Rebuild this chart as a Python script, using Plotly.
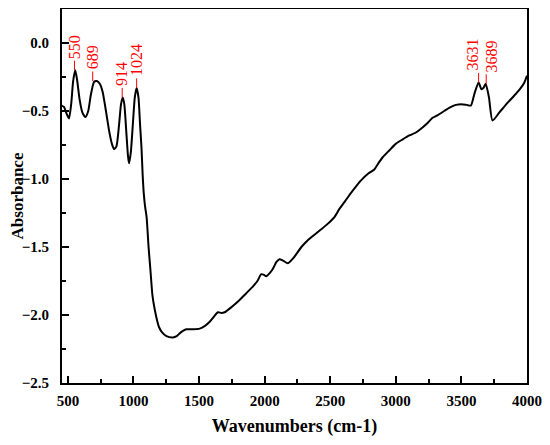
import plotly.graph_objects as go

wavenumber = [452, 470, 490, 508, 525, 540, 556, 570, 590, 610, 634, 655, 675, 700, 720, 743, 765, 790, 815, 835,
              852, 870, 890, 905, 918, 930, 945, 958, 966, 980, 995, 1010, 1024, 1038, 1050, 1061, 1070, 1078,
              1088, 1100, 1115, 1130, 1145, 1162, 1180, 1195, 1220, 1251, 1301, 1330, 1352, 1380, 1403, 1450,
              1505, 1545, 1581, 1615, 1644, 1670, 1695, 1750, 1809, 1860, 1911, 1945, 1974, 1995, 2012, 2040,
              2063, 2090, 2113, 2140, 2177, 2220, 2280, 2329, 2380, 2431, 2480, 2532, 2570, 2608, 2660, 2700,
              2735, 2790, 2836, 2870, 2900, 2950, 3001, 3050, 3103, 3150, 3192, 3240, 3280, 3320, 3369, 3410,
              3458, 3500, 3540, 3572, 3600, 3631, 3653, 3668, 3685, 3710, 3737, 3790, 3851, 3900, 3953, 3980, 4000]
absorbance = [-0.46, -0.47, -0.52, -0.555, -0.45, -0.28, -0.20, -0.27, -0.42, -0.51, -0.545, -0.50, -0.38, -0.285,
              -0.28, -0.30, -0.36, -0.50, -0.65, -0.74, -0.78, -0.76, -0.60, -0.45, -0.40, -0.45, -0.65, -0.83,
              -0.885, -0.80, -0.60, -0.40, -0.33, -0.40, -0.60, -0.77, -0.97, -1.10, -1.20, -1.28, -1.50, -1.68,
              -1.86, -1.96, -2.04, -2.09, -2.13, -2.155, -2.165, -2.155, -2.135, -2.115, -2.105, -2.105, -2.10,
              -2.08, -2.05, -2.01, -1.98, -1.985, -1.98, -1.94, -1.89, -1.84, -1.79, -1.75, -1.70, -1.705,
              -1.715, -1.69, -1.66, -1.61, -1.59, -1.60, -1.62, -1.58, -1.50, -1.45, -1.41, -1.37, -1.33, -1.28,
              -1.22, -1.17, -1.10, -1.05, -1.01, -0.96, -0.93, -0.88, -0.84, -0.79, -0.74, -0.71, -0.68, -0.66,
              -0.63, -0.59, -0.55, -0.53, -0.50, -0.475, -0.455, -0.45, -0.455, -0.46, -0.37, -0.29, -0.34,
              -0.33, -0.30, -0.40, -0.57, -0.51, -0.44, -0.39, -0.33, -0.29, -0.24]

peak_wn = [550, 689, 914, 1024, 3631, 3689]
peak_abs = [-0.20, -0.28, -0.40, -0.33, -0.29, -0.30]
peak_labels = ["550", "689", "914", "1024", "3631", "3689"]
label_nudge = [0, 0, 0, 0, -6, 5]

x_ticks = [500, 1000, 1500, 2000, 2500, 3000, 3500, 4000]
y_ticks = [0.0, -0.5, -1.0, -1.5, -2.0, -2.5]

fig = go.Figure()
fig.add_trace(go.Scatter(x=wavenumber, y=absorbance, mode="lines",
                         line=dict(color="black", width=2, shape="spline", smoothing=0.6),
                         showlegend=False, hoverinfo="skip"))

# short red marker lines from each peak upward
stick = 0.07
seg_x, seg_y = [], []
for wn, ab in zip(peak_wn, peak_abs):
    seg_x += [wn, wn, None]
    seg_y += [ab, ab + stick, None]
fig.add_trace(go.Scatter(x=seg_x, y=seg_y, mode="lines", line=dict(color="red", width=1),
                         showlegend=False, hoverinfo="skip"))

for wn, ab, lab, nd in zip(peak_wn, peak_abs, peak_labels, label_nudge):
    fig.add_annotation(x=wn, y=ab + stick, text=lab, textangle=-90, showarrow=False,
                       xanchor="center", yanchor="bottom", xshift=nd, yshift=0,
                       font=dict(family="Liberation Serif", size=16, color="red"))

axis_common = dict(showline=True, linecolor="black", linewidth=2, mirror=True,
                   ticks="inside", ticklen=7, tickwidth=1.5, tickcolor="black",
                   showgrid=False, zeroline=False,
                   tickfont=dict(family="Liberation Serif", size=15, color="black", weight="bold"))

fig.update_xaxes(range=[455, 4000], tickvals=x_ticks, ticklabelstandoff=3,
                 minor=dict(ticks="inside", ticklen=4, tickwidth=1.5, tickcolor="black", dtick=250, tick0=500),
                 title=dict(text="Wavenumbers (cm-1)", standoff=11,
                            font=dict(family="Liberation Serif", size=18, color="black", weight="bold")),
                 **axis_common)
fig.update_yaxes(range=[-2.5, 0.25], tickvals=y_ticks, tickformat=".1f", ticklabelstandoff=8,
                 minor=dict(ticks="inside", ticklen=4, tickwidth=1.5, tickcolor="black", dtick=0.25, tick0=0),
                 title=dict(text="Absorbance", standoff=1,
                            font=dict(family="Liberation Serif", size=17, color="black", weight="bold")),
                 **axis_common)

fig.update_layout(width=542, height=437, margin=dict(l=54, r=23, t=1, b=62, autoexpand=False),
                  plot_bgcolor="white", paper_bgcolor="white")

fig.write_html("out.html")
